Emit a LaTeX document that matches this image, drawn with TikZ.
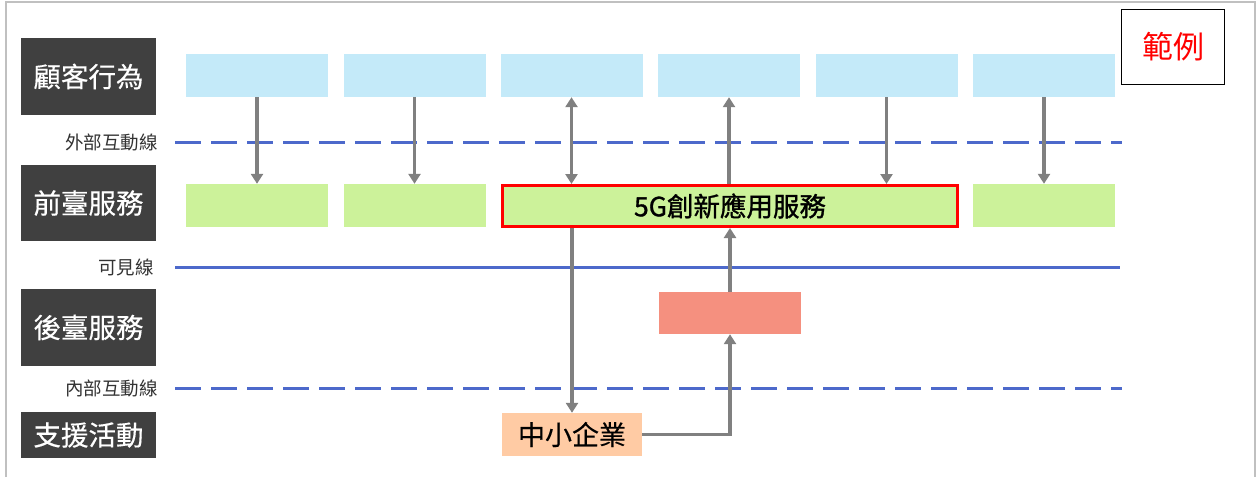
\documentclass[tikz,border=0pt]{standalone}
\usepackage{fontspec}
\setmainfont{Noto Sans CJK TC}
\newfontfamily\cjkb[FakeBold=1.2]{Noto Sans CJK TC}
\newfontfamily\cjkm[FakeBold=0.4]{Noto Sans CJK TC}
\usetikzlibrary{arrows.meta}
\definecolor{lanedark}{HTML}{404040}
\definecolor{custcyan}{HTML}{C4EAF9}
\definecolor{frontgreen}{HTML}{CCF29A}
\definecolor{backsalmon}{HTML}{F5907F}
\definecolor{suppeach}{HTML}{FFCBA4}
\definecolor{lineblue}{HTML}{4D69CB}
\definecolor{arrowgray}{HTML}{808080}
\definecolor{framegray}{HTML}{C0C0C0}
\tikzset{
  lanebox/.style={fill=lanedark,text=white,inner sep=0pt,minimum width=135pt,font=\cjkm\fontsize{27.5}{30}\selectfont},
  cellbox/.style={inner sep=0pt,minimum width=142pt,minimum height=43pt},
  custcell/.style={cellbox,fill=custcyan},
  frontcell/.style={cellbox,fill=frontgreen},
  smalllabel/.style={anchor=east,inner sep=0pt,text=black!80,font=\fontsize{18.5}{20}\selectfont},
  flowarrow/.style={draw=arrowgray,line width=3.5pt,-{Triangle[width=12pt,length=10pt]}},
  bothflow/.style={draw=arrowgray,line width=3.5pt,{Triangle[width=12pt,length=10pt]}-{Triangle[width=12pt,length=10pt]}},
  solidlane/.style={draw=lineblue,line width=3pt},
  dashlane/.style={draw=lineblue,line width=3pt,dash pattern=on 26pt off 10pt}
}
\begin{document}
\begin{tikzpicture}[x=1pt,y=-1pt]
\useasboundingbox (0,0) rectangle (1257,477);
\draw[framegray,line width=1.5pt] (6,477) -- (6,2) -- (1255,2) -- (1255,477);

% lane labels
\node[lanebox,minimum height=77pt] (l1) at (88.5,76.5) {顧客行為};
\node[lanebox,minimum height=76pt] (l2) at (88.5,203) {前臺服務};
\node[lanebox,minimum height=77pt] (l3) at (88.5,327.5) {後臺服務};
\node[lanebox,minimum height=46pt] (l4) at (88.5,435) {支援活動};

% separator lines
\node[smalllabel] (t1) at (158,142) {外部互動線};
\node[smalllabel] (t2) at (154,267) {可見線};
\node[smalllabel] (t3) at (158,388) {內部互動線};
\coordinate (a1) at (175,142); \coordinate (b1) at (1122,142);
\coordinate (a2) at (175,267); \coordinate (b2) at (1120,267);
\coordinate (a3) at (175,388); \coordinate (b3) at (1122,388);
\draw[dashlane] (a1) -- (b1);
\draw[solidlane] (a2) -- (b2);
\draw[dashlane] (a3) -- (b3);

% customer row
\node[custcell] (c1) at (257,75.5) {};
\node[custcell] (c2) at (414.5,75.5) {};
\node[custcell] (c3) at (571.5,75.5) {};
\node[custcell] (c4) at (729,75.5) {};
\node[custcell] (c5) at (886.5,75.5) {};
\node[custcell] (c6) at (1044,75.5) {};

% front row
\node[frontcell] (f1) at (257,205.5) {};
\node[frontcell] (f2) at (414.5,205.5) {};
\node[fill=frontgreen,draw=red,line width=3pt,inner sep=0pt,minimum width=455pt,minimum height=41pt,font=\cjkb\fontsize{26.5}{28}\selectfont] (g5) at (730,206) {5G創新應用服務};
\node[frontcell] (f6) at (1044,205.5) {};

% back and support
\node[fill=backsalmon,inner sep=0pt,minimum width=142pt,minimum height=42pt] (bk) at (730,313) {};
\node[fill=suppeach,inner sep=0pt,minimum width=140pt,minimum height=43pt,font=\cjkm\fontsize{27}{29}\selectfont] (sme) at (572,434.5) {中小企業};

% legend
\node[draw=black,line width=1pt,fill=white,inner sep=0pt,minimum width=103pt,minimum height=75pt,text=red,font=\fontsize{31}{34}\selectfont] (lg) at (1173,47) {範例};

% arrows
\draw[flowarrow] (c1.south) -- (f1.north);
\draw[flowarrow] (c2.south) -- (f2.north);
\draw[bothflow] (c3.south) -- (c3.south |- g5.north);
\draw[flowarrow] (c4.south |- g5.north) -- (c4.south);
\draw[flowarrow] (c5.south) -- (c5.south |- g5.north);
\draw[flowarrow] (c6.south) -- (f6.north);
\draw[flowarrow] (g5.south -| sme.north) -- (sme.north);
\draw[flowarrow] (bk.north) -- (bk.north |- g5.south);
\draw[flowarrow] (sme.east) -| (bk.south);
\end{tikzpicture}
\end{document}
